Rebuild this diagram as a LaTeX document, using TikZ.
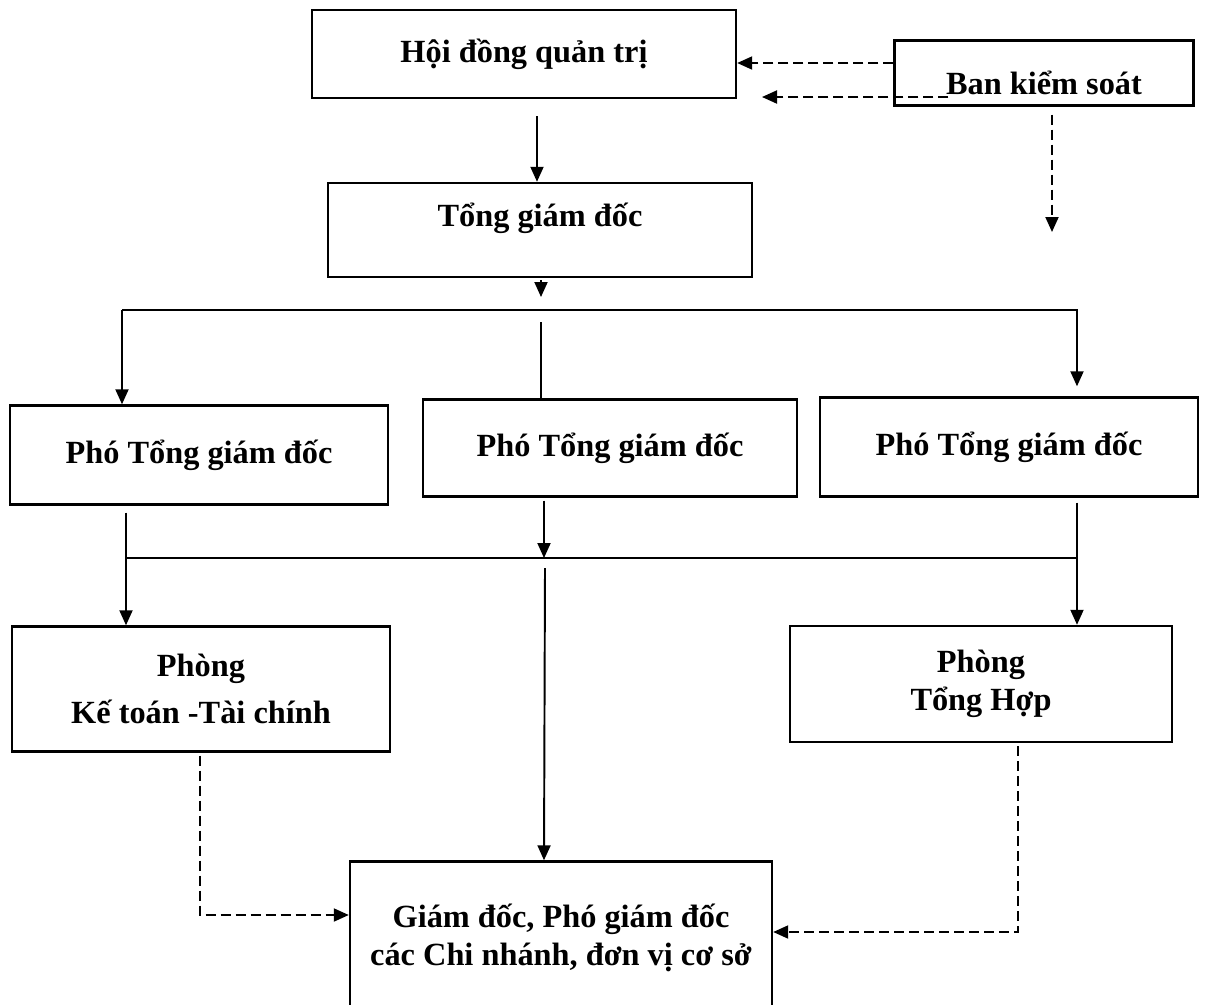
\documentclass[tikz,border=0pt]{standalone}
\usepackage{fontspec}
\setmainfont{Liberation Serif}
\usetikzlibrary{arrows.meta, positioning, calc}

\begin{document}
\begin{tikzpicture}[x=0.02cm, y=-0.02cm,
  box/.style={draw, line width=1.4pt, align=center, font=\fontsize{18.4}{22}\selectfont\bfseries, inner sep=2pt},
  arr/.style={line width=1.1pt, -{Triangle[length=0.3cm, width=0.26cm]}},
  darr/.style={arr, dash pattern=on 0.2cm off 0.1cm},
]
  \useasboundingbox (0,0) rectangle (1205,1005);
  \clip (0,0) rectangle (1205,1005);

  % Top level
  \node[box, minimum width=8.48cm, minimum height=1.76cm] (hdqt) at (524,54) {Hội đồng quản trị};
  \node[box, minimum width=5.98cm, minimum height=1.3cm, text height=0.88cm] (bks) at (1044,73) {Ban kiểm soát};
  \node[box, minimum width=8.48cm, minimum height=1.88cm, text depth=0.6cm] (tgd) at (540,230) {Tổng giám đốc};

  % Deputies
  \node[box, minimum width=7.56cm, minimum height=1.98cm] (ptgd1) at (199,455) {Phó Tổng giám đốc};
  \node[box, minimum width=7.48cm, minimum height=1.94cm] (ptgd2) at (610,448) {Phó Tổng giám đốc};
  \node[box, minimum width=7.56cm, minimum height=1.98cm] (ptgd3) at (1009,447) {Phó Tổng giám đốc};

  % Departments
  \node[box, minimum width=7.56cm, minimum height=2.5cm] (pkt) at (201,689) {Phòng\\[5pt] Kế toán -Tài chính};
  \node[box, minimum width=7.64cm, minimum height=2.32cm] (pth) at (981,684) {Phòng\\ Tổng Hợp};
  \node[box, minimum width=8.44cm, minimum height=3.06cm] (gd) at (561,938) {Giám đốc, Phó giám đốc\\ các Chi nhánh, đơn vị cơ sở};

  % Ban kiem soat
  \coordinate (bksleft) at (762,97);
  \coordinate (bksdown) at (1052,232);
  \draw[darr] (bks.west |- 0,63) -- (hdqt.east |- 0,63);
  \draw[darr] ($(bks.west |- bksleft)+(55,0)$) -- (bksleft);
  \draw[darr, shorten <=0.16cm] (bks.south -| bksdown) -- (bksdown);

  % Hoi dong -> Tong giam doc
  \draw[arr, shorten <=0.34cm] (hdqt.south -| 537,0) -- (tgd.north -| 537,0);
  \coordinate (tgdtip) at (541,297);
  \draw[arr, shorten <=0.04cm] (tgd.south -| tgdtip) -- (tgdtip);

  % Upper bus
  \coordinate (busL) at (122,310);
  \coordinate (busR) at (1077,310);
  \coordinate (midtop) at (541,322);
  \draw[arr] (busL) -- (busR) -- ([yshift=0.2cm]busR |- ptgd3.north);
  \draw[arr] (busL) -- (busL |- ptgd1.north);
  \draw[line width=1.1pt] (midtop) -- (midtop |- ptgd2.north);

  % Lower bus
  \coordinate (bus2L) at (126,558);
  \coordinate (bus2R) at (1077,558);
  \coordinate (bus2M) at (544,558);
  \draw[line width=1.1pt] (bus2L) -- (bus2R);
  \draw[arr, shorten <=0.14cm] (ptgd1.south -| bus2L) -- (bus2L |- pkt.north);
  \draw[arr, shorten <=0.1cm] (ptgd3.south -| bus2R) -- (bus2R |- pth.north);
  \draw[arr, shorten <=0.06cm] (ptgd2.south -| bus2M) -- (bus2M);
  \draw[arr] ($(bus2M)+(1,10)$) -- (bus2M |- gd.north);

  % Dashed links to branches
  \coordinate (kt) at (200,915);
  \coordinate (th) at (1018,932);
  \draw[darr, shorten <=0.06cm] (pkt.south -| kt) -- (kt) -- (kt -| gd.west);
  \draw[darr, shorten <=0.06cm] (pth.south -| th) -- (th) -- (th -| gd.east);

\end{tikzpicture}
\end{document}
